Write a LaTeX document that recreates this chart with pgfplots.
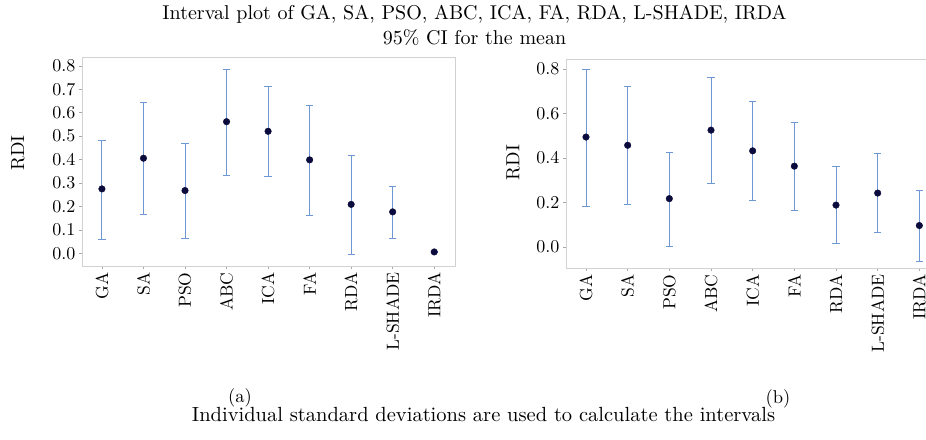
\documentclass[border=0pt]{standalone}
\usepackage{pgfplots}
\pgfplotsset{compat=1.18}
\usepackage{pgfplotstable}
\usepackage{fontspec}
\setmainfont{lmroman10-regular}[Extension=.otf]
\definecolor{barblue}{HTML}{6F97D3}
\definecolor{dotnavy}{HTML}{0A0A3C}
\definecolor{framegray}{HTML}{D2D2D2}

% mean, error plus (upper-mean), error minus (mean-lower)
\pgfplotstableread{
x mean ep em
0 0.275 0.208 0.214
1 0.406 0.239 0.242
2 0.268 0.200 0.204
3 0.562 0.224 0.229
4 0.521 0.191 0.191
5 0.399 0.233 0.238
6 0.209 0.209 0.213
7 0.177 0.109 0.113
8 0.006 0.003 0.003
}\dataA

\pgfplotstableread{
x mean ep em
0 0.494 0.306 0.312
1 0.457 0.264 0.264
2 0.217 0.209 0.214
3 0.525 0.235 0.239
4 0.432 0.220 0.221
5 0.363 0.196 0.198
6 0.188 0.174 0.171
7 0.242 0.176 0.178
8 0.096 0.159 0.161
}\dataB

\pgfplotsset{intstyle/.style={
  scale only axis,
  xmin=-0.48,
  xtick={0,1,2,3,4,5,6,7,8},
  xticklabels={GA,SA,PSO,ABC,ICA,FA,RDA,L-SHADE,IRDA},
  x tick label style={rotate=90, anchor=east, font=\fontsize{17.5}{20}\selectfont},
  y tick label style={/pgf/number format/.cd, fixed, fixed zerofill, precision=1, assume math mode=true, /tikz/.cd, font=\fontsize{18}{20}\selectfont},
  tick align=outside,
  major tick length=3pt,
  xtick pos=left, ytick pos=left,
  tick style={framegray!80!black, line width=0.6pt},
  axis line style={framegray, line width=0.8pt},
  label style={font=\fontsize{19}{21}\selectfont},
  ylabel={RDI},
  clip=false,
}}

\pgfplotsset{ebars/.style={
  barblue, only marks, mark=none,
  error bars/.cd, y dir=both, y explicit,
  error bar style={draw=barblue, line width=0.9pt},
  error mark options={rotate=90, draw=barblue, mark size=3.6pt, line width=0.9pt},
}}
\pgfplotsset{dots/.style={
  only marks, mark=*, mark size=3.3pt,
  mark options={fill=dotnavy, draw=dotnavy},
}}

\begin{document}
\begin{tikzpicture}[x=1pt,y=1pt]
\useasboundingbox (0,0) rectangle (926,439);

\node[anchor=base, font=\fontsize{20}{22}\selectfont] at (474.5,419) {Interval plot of GA, SA, PSO, ABC, ICA, FA, RDA, L-SHADE, IRDA};
\node[anchor=base, font=\fontsize{20}{22}\selectfont] at (474.5,394) {95\% CI for the mean};

\begin{axis}[intstyle,
  at={(82pt,173pt)}, anchor=south west,
  width=373pt, height=209pt,
  xmax=8.5, ymin=-0.054, ymax=0.838,
  ytick={0,0.1,0.2,0.3,0.4,0.5,0.6,0.7,0.8},
  ylabel style={at={(rel axis cs:-0.172,0.54)}, anchor=center},
]
\addplot[ebars] table[x=x, y=mean, y error plus=ep, y error minus=em] {\dataA};
\addplot[dots] table[x=x, y=mean] {\dataA};
\end{axis}

\begin{axis}[intstyle,
  at={(566pt,171pt)}, anchor=south west,
  width=360pt, height=209pt,
  xmax=8.16, ymin=-0.095, ymax=0.845,
  ytick={0,0.2,0.4,0.6,0.8},
  axis lines*=left,
  ylabel style={at={(rel axis cs:-0.147,0.505)}, anchor=center},
  extra description/.code={\draw[framegray, line width=0.8pt] (rel axis cs:0,1) -- (rel axis cs:1,1);},
]
\addplot[ebars] table[x=x, y=mean, y error plus=ep, y error minus=em] {\dataB};
\addplot[dots] table[x=x, y=mean] {\dataB};
\end{axis}

\node[anchor=base, font=\fontsize{18.5}{20}\selectfont] at (240,36) {(a)};
\node[anchor=base, font=\fontsize{18.5}{20}\selectfont] at (778,35) {(b)};
\node[anchor=base, font=\fontsize{20.5}{22}\selectfont] at (483.5,17) {Individual standard deviations are used to calculate the intervals};
\end{tikzpicture}
\end{document}
